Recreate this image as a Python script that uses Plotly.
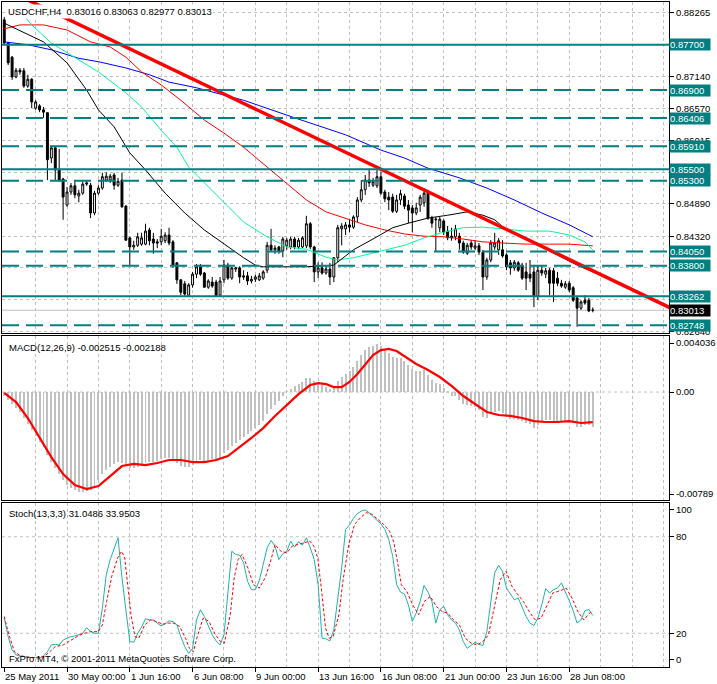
import plotly.graph_objects as go

# ---------------- data ----------------
bars = list(range(151))
opens = [.8814,.8773,.8748,.8713,.8725,.8724,.8697,.8709,.8658,.8662,
         .8655,.8650,.8570,.8588,.8549,.8533,.8487,.8510,.8521,.8503,
         .8508,.8524,.8522,.8473,.8508,.8517,.8531,.8531,.8540,.8522,
         .8531,.8485,.8429,.8413,.8416,.8418,.8418,.8443,.8427,.8422,
         .8422,.8424,.8434,.8422,.8385,.8355,.8348,.8328,.8346,.8365,
         .8378,.8367,.8342,.8351,.8351,.8328,.8355,.8381,.8358,.8374,
         .8376,.8362,.8362,.8353,.8356,.8355,.8358,.8372,.8416,.8408,
         .8413,.8406,.8415,.8413,.8427,.8413,.8413,.8415,.8454,.8413,
         .8369,.8376,.8367,.8374,.8360,.8394,.8445,.8445,.8452,.8448,
         .8466,.8496,.8514,.8531,.8522,.8521,.8537,.8510,.8501,.8501,
         .8476,.8496,.8503,.8487,.8482,.8473,.8487,.8491,.8508,.8464,
         .8461,.8447,.8459,.8441,.8432,.8431,.8432,.8420,.8402,.8420,
         .8411,.8415,.8404,.8360,.8390,.8413,.8408,.8408,.8399,.8385,
         .8376,.8385,.8381,.8369,.8365,.8369,.8326,.8372,.8365,.8372,
         .8371,.8358,.8349,.8342,.8349,.8341,.8323,.8305,.8319,.8319,
         .83016]
highs = [.8819,.8775,.8750,.8729,.8729,.8729,.8717,.8711,.8672,.8665,
         .8660,.8651,.8589,.8589,.8586,.8535,.8519,.8526,.8531,.8514,
         .8529,.8531,.8526,.8512,.8522,.8544,.8545,.8542,.8544,.8535,
         .8544,.8487,.8431,.8424,.8438,.8438,.8454,.8447,.8438,.8427,
         .8445,.8439,.8447,.8425,.8386,.8356,.8353,.8349,.8369,.8383,
         .8383,.8369,.8356,.8360,.8355,.8360,.8390,.8385,.8378,.8378,
         .8379,.8372,.8369,.8362,.8364,.8367,.8372,.8422,.8445,.8416,
         .8415,.8431,.8429,.8431,.8431,.8429,.8432,.8468,.8457,.8415,
         .8386,.8386,.8381,.8385,.8395,.8452,.8455,.8457,.8461,.8469,
         .8501,.8531,.8540,.8551,.8535,.8549,.8545,.8514,.8510,.8507,
         .8505,.8514,.8507,.8496,.8487,.8491,.8505,.8517,.8514,.8468,
         .8466,.8466,.8462,.8450,.8447,.8452,.8438,.8424,.8420,.8425,
         .8425,.8420,.8408,.8394,.8425,.8438,.8429,.8425,.8402,.8390,
         .8390,.8388,.8385,.8385,.8390,.8381,.8379,.8379,.8376,.8376,
         .8376,.8369,.8355,.8353,.8353,.8344,.8326,.8319,.8328,.8323,
         .83063]
lows = [.8770,.8734,.8708,.8711,.8717,.8694,.8694,.8658,.8655,.8651,
        .8641,.8531,.8561,.8531,.8528,.8461,.8484,.8505,.8499,.8492,
        .8505,.8521,.8464,.8469,.8505,.8514,.8528,.8526,.8514,.8519,
        .8482,.8424,.8379,.8408,.8413,.8415,.8416,.8416,.8401,.8411,
        .8416,.8420,.8416,.8376,.8348,.8328,.8326,.8326,.8341,.8358,
        .8362,.8341,.8339,.8341,.8325,.8325,.8349,.8355,.8355,.8369,
        .8349,.8355,.8346,.8349,.8351,.8353,.8355,.8367,.8404,.8401,
        .8401,.8395,.8408,.8409,.8409,.8409,.8411,.8411,.8409,.8351,
        .8358,.8364,.8364,.8346,.8351,.8386,.8416,.8434,.8439,.8445,
        .8457,.8492,.8505,.8519,.8519,.8517,.8505,.8492,.8478,.8473,
        .8473,.8487,.8480,.8455,.8439,.8469,.8475,.8484,.8461,.8447,
        .8404,.8439,.8434,.8425,.8424,.8425,.8408,.8401,.8399,.8408,
        .8408,.8399,.8337,.8355,.8386,.8408,.8399,.8394,.8372,.8364,
        .8371,.8369,.8355,.8337,.8351,.8307,.8319,.8362,.8358,.8328,
        .8316,.8344,.8341,.8339,.8333,.8316,.8272,.8302,.8311,.8298,
        .82977]
closes = [.8773,.8738,.8713,.8725,.8722,.8697,.8709,.8669,.8669,.8655,
          .8651,.8567,.8588,.8549,.8531,.8501,.8510,.8521,.8505,.8508,
          .8524,.8526,.8473,.8508,.8517,.8537,.8538,.8538,.8522,.8529,
          .8484,.8425,.8413,.8416,.8431,.8429,.8441,.8424,.8420,.8420,
          .8432,.8434,.8420,.8381,.8355,.8333,.8330,.8346,.8365,.8378,
          .8365,.8342,.8353,.8344,.8326,.8353,.8381,.8358,.8376,.8376,
          .8360,.8360,.8353,.8356,.8360,.8362,.8369,.8416,.8408,.8411,
          .8406,.8427,.8425,.8427,.8413,.8425,.8429,.8454,.8413,.8369,
          .8376,.8367,.8374,.8360,.8394,.8447,.8450,.8452,.8448,.8466,
          .8496,.8514,.8531,.8526,.8528,.8537,.8508,.8498,.8496,.8476,
          .8496,.8507,.8485,.8478,.8473,.8482,.8501,.8508,.8464,.8455,
          .8462,.8462,.8439,.8429,.8429,.8445,.8420,.8404,.8416,.8413,
          .8415,.8404,.8360,.8390,.8420,.8420,.8424,.8397,.8378,.8376,
          .8386,.8372,.8358,.8358,.8358,.8326,.8372,.8367,.8371,.8349,
          .8349,.8349,.8344,.8348,.8337,.8319,.8305,.8316,.8314,.8300,
          .83013]

# moving averages (sampled along the curves)
ma_black_bars = [0,5,10,16,21,24,28,32,36,41,46,51,57,61,64,66,70,77,84,89,95,99,103,108,113,118,122,125,128,132,137,142,146,150]
ma_black_vals = [.8808,.8791,.8775,.8738,.8690,.8655,.8625,.8579,.8549,.8508,.8473,.8443,.8413,.8394,.8381,.8378,.8378,.8378,.8381,.8408,
                 .8431,.8447,.8455,.8464,.8469,.8475,.8469,.8461,.8443,.8429,.8413,.8395,.8381,.8369]
ma_green_bars = [5,7,12,19,24,31,35,40,44,47,51,56,61,67,72,77,82,85,89,95,102,107,112,117,122,127,133,139,144,148,150]
ma_green_vals = [.8821,.8805,.8773,.8743,.8722,.8685,.8660,.8619,.8589,.8554,.8526,.8491,.8457,.8431,.8413,.8409,.8395,.8390,.8394,.8404,
                 .8416,.8429,.8439,.8447,.8448,.8445,.8441,.8441,.8434,.8422,.8408]
ma_red_bars = [0,4,10,16,22,27,31,35,40,45,51,56,61,67,72,77,82,87,92,97,102,107,112,117,122,127,133,139,144,150]
ma_red_vals = [.8798,.8805,.8805,.8796,.8775,.8766,.8748,.8722,.8699,.8672,.8637,.8614,.8589,.8554,.8526,.8496,.8475,.8464,.8452,.8443,
               .8436,.8432,.8431,.8427,.8422,.8420,.8418,.8418,.8418,.8415]
ma_blue_bars = [0,6,12,19,24,31,37,42,49,56,61,74,87,96,102,108,116,123,130,137,144,150]
ma_blue_vals = [.8775,.8770,.8761,.8746,.8740,.8729,.8717,.8704,.8694,.8681,.8672,.8641,.8611,.8584,.8570,.8552,.8535,.8517,.8496,.8473,.8452,.8431]

trend_bars = [6, 175]
trend_prices = [0.8849, 0.8288]

levels_solid = [0.87700, 0.85500, 0.83262]
levels_dashed = [0.86900, 0.86406, 0.85910, 0.85300, 0.84050, 0.83800, 0.82748]
last_price = 0.83013

price_ticks = [0.88265, 0.87703, 0.87140, 0.86570, 0.86015, 0.85453, 0.84890, 0.84320, 0.83765, 0.83203, 0.82640]
price_tick_text = ['0.88265', '', '0.87140', '0.86570', '0.86015', '', '0.84890', '0.84320', '', '', '0.82640']

macd_hist = [-0.00029,-0.00058,-0.00087,-0.00116,-0.00145,-0.00189,-0.00233,-0.00276,-0.00320,-0.00364,
             -0.00400,-0.00458,-0.00509,-0.00553,-0.00596,-0.00640,-0.00676,-0.00698,-0.00712,-0.00727,
             -0.00727,-0.00720,-0.00712,-0.00683,-0.00640,-0.00596,-0.00567,-0.00545,-0.00523,-0.00509,
             -0.00516,-0.00538,-0.00553,-0.00553,-0.00545,-0.00538,-0.00516,-0.00509,-0.00509,-0.00502,
             -0.00487,-0.00480,-0.00480,-0.00494,-0.00516,-0.00538,-0.00545,-0.00545,-0.00531,-0.00509,
             -0.00494,-0.00502,-0.00494,-0.00487,-0.00494,-0.00480,-0.00443,-0.00422,-0.00393,-0.00371,
             -0.00349,-0.00327,-0.00305,-0.00284,-0.00262,-0.00240,-0.00211,-0.00160,-0.00124,-0.00095,
             -0.00065,-0.00029,0.00005,0.00022,0.00044,0.00058,0.00073,0.00102,0.00102,0.00080,
             0.00065,0.00051,0.00036,0.00022,0.00036,0.00080,0.00109,0.00131,0.00153,0.00182,
             0.00225,0.00269,0.00305,0.00327,0.00334,0.00349,0.00334,0.00305,0.00284,0.00254,
             0.00247,0.00247,0.00225,0.00196,0.00167,0.00153,0.00153,0.00160,0.00124,0.00087,
             0.00065,0.00058,0.00029,-0.00007,-0.00029,-0.00029,-0.00058,-0.00087,-0.00095,-0.00102,
             -0.00109,-0.00131,-0.00182,-0.00189,-0.00160,-0.00145,-0.00138,-0.00153,-0.00174,-0.00196,
             -0.00196,-0.00204,-0.00211,-0.00225,-0.00233,-0.00262,-0.00240,-0.00218,-0.00204,-0.00204,
             -0.00218,-0.00218,-0.00218,-0.00211,-0.00211,-0.00225,-0.00254,-0.00254,-0.00240,-0.00240,
             -0.002515]
macd_sig_bars = [0,3,6,9,12,15,18,21,24,27,30,33,36,39,42,45,48,51,54,57,60,63,66,69,72,75,78,
                 80,82,84,86,88,90,92,94,96,98,100,102,
                 105,108,111,114,117,120,123,126,129,132,135,138,141,144,147,150]
macd_sig_vals = [-0.00007,-0.00073,-0.00189,-0.00327,-0.00473,-0.00596,-0.00676,-0.00705,-0.00683,-0.00611,
                 -0.00538,-0.00523,-0.00531,-0.00516,-0.00494,-0.00494,-0.00509,-0.00509,-0.00494,-0.00465,
                 -0.00400,-0.00334,-0.00262,-0.00174,-0.00095,-0.00015,0.00051,
                 0.00065,0.00058,0.00036,0.00036,0.00073,0.00131,0.00204,0.00269,0.00305,0.00313,0.00298,0.00262,
                 0.00204,0.00160,0.00109,0.00044,-0.00029,-0.00087,-0.00145,-0.00167,-0.00174,-0.00189,
                 -0.00211,-0.00218,-0.00218,-0.00211,-0.00225,-0.002188]

stoch_main = [29.4,17.9,9.6,6.5,5.8,5.4,5.0,4.8,4.8,4.4,
              6.0,8.5,12.7,13.1,12.7,15.8,16.9,17.9,18.3,19.0,
              20.0,23.5,21.0,20.0,20.0,35.6,56.5,65.8,72.1,79.4,
              54.4,35.6,14.8,14.4,20.0,23.8,29.0,28.3,28.3,26.3,
              24.6,25.8,27.7,27.3,25.2,17.9,11.7,7.5,10.6,28.3,
              34.6,30.4,24.2,19.0,15.2,12.7,19.0,42.9,71.0,69.0,
              68.5,63.8,52.3,47.1,47.1,52.7,62.7,73.1,77.7,74.2,
              65.8,69.4,71.0,77.3,73.5,76.9,74.8,79.4,73.1,65.8,
              50.2,16.9,16.5,15.2,22.1,39.8,60.6,84.6,87.3,91.5,
              94.4,96.0,96.7,95.0,92.3,90.2,88.1,84.6,78.3,67.9,
              50.2,45.6,44.4,37.7,27.3,32.5,39.8,49.8,45.6,39.8,
              26.3,34.6,36.7,31.5,28.3,26.3,22.1,14.8,10.6,12.7,
              14.4,13.1,12.3,21.0,39.8,57.5,62.3,58.5,48.1,44.0,
              40.8,41.9,36.7,30.4,26.3,24.8,29.4,37.7,47.7,45.0,
              47.1,48.1,51.3,46.0,40.2,34.0,26.3,28.3,34.0,34.8,
              31.0486]
stoch_sig_bars = [0,1.2,2.6,4.1,7.1,10.1,11.6,13,15,17,19,20.5,22,24,25,26.1,27.4,28.9,29.9,30.7,31.4,32.3,33.3,34.3,
                  35.8,37.3,38.8,40.3,41.8,43.2,44.7,46.2,47.2,48.2,49.2,50.7,52.2,53.6,55.1,56.1,57.6,58.6,59.6,60.6,
                  62.1,63.5,65,66.5,68,69,70.5,72,73.4,74.9,76.4,77.9,78.9,79.9,80.9,81.9,82.8,83.8,85.3,86.3,87.8,
                  89.3,90.8,92.3,93.7,95.2,96.7,98.2,99.2,100.2,101.2,102.6,104.1,105.6,107.1,108.6,110.1,111.6,113,
                  114.5,116,117.5,119,120.5,122,123.4,124.9,126.4,127.9,129.4,130.9,132.3,133.8,135.3,136.8,138.3,
                  139.8,141.8,143.2,144.7,146.2,147.7,149.2,150]
stoch_sig_vals = [30.4,19.0,8.5,6.0,4.8,5.4,8.5,11.7,12.7,15.8,18.6,20.0,21.0,21.0,25.2,39.8,55.4,66.9,71.0,66.9,52.3,31.5,17.9,16.9,
                  25.2,28.3,27.3,25.6,26.3,26.3,24.2,16.9,10.6,8.5,17.9,29.4,27.3,20.0,14.8,13.8,31.5,54.4,65.8,69.0,
                  60.6,50.2,48.1,54.4,65.8,75.2,71.0,70.0,74.2,75.2,76.3,77.3,74.2,66.9,46.0,23.1,16.9,17.9,31.5,52.3,75.2,
                  87.7,91.9,95.0,94.0,90.8,87.7,83.5,77.3,64.8,50.2,46.0,37.7,31.5,39.8,42.9,36.7,33.5,32.5,
                  28.3,25.2,16.9,13.8,12.7,14.8,19.0,35.6,53.3,58.5,49.2,44.0,39.8,33.5,28.3,29.4,36.7,
                  45.0,46.5,48.1,41.9,33.5,28.3,32.5,33.9503]

time_label_bars = [0, 16, 32, 48, 64, 80, 96, 112, 128, 144]
time_labels = ['25 May 2011', '30 May 00:00', '1 Jun 16:00', '6 Jun 08:00', '9 Jun 00:00',
               '13 Jun 16:00', '16 Jun 08:00', '21 Jun 00:00', '23 Jun 16:00', '28 Jun 08:00']
grid_bars = list(range(8, 170, 8))

# ---------------- figure ----------------
FONT = 'Liberation Sans'
GRID = '#C0C0C0'
TEAL = '#008080'
XR = [-0.575, 169.425]

fig = go.Figure()

fig.add_trace(go.Candlestick(
    x=bars, open=opens, high=highs, low=lows, close=closes,
    increasing=dict(line=dict(color='black', width=1), fillcolor='white'),
    decreasing=dict(line=dict(color='black', width=1), fillcolor='black'),
    whiskerwidth=0, hoverinfo='skip', showlegend=False, xaxis='x', yaxis='y'))

for bx, vy, col in [(ma_blue_bars, ma_blue_vals, '#0000FF'),
                    (ma_red_bars, ma_red_vals, '#FF0000'),
                    (ma_green_bars, ma_green_vals, '#00FA9A'),
                    (ma_black_bars, ma_black_vals, '#000000')]:
    fig.add_trace(go.Scatter(x=bx, y=vy, mode='lines', line=dict(color=col, width=1),
                             hoverinfo='skip', showlegend=False, xaxis='x', yaxis='y'))

fig.add_trace(go.Scatter(x=trend_bars, y=trend_prices, mode='lines',
                         line=dict(color='#FF0000', width=3.5),
                         hoverinfo='skip', showlegend=False, xaxis='x', yaxis='y'))

# MACD
fig.add_trace(go.Bar(x=bars, y=macd_hist, width=0.25,
                     marker=dict(color='#C0C0C0', line=dict(width=0)),
                     hoverinfo='skip', showlegend=False, xaxis='x2', yaxis='y2'))
fig.add_trace(go.Scatter(x=macd_sig_bars, y=macd_sig_vals, mode='lines',
                         line=dict(color='#FF0000', width=2.2),
                         hoverinfo='skip', showlegend=False, xaxis='x2', yaxis='y2'))

# Stochastic
fig.add_trace(go.Scatter(x=bars, y=stoch_main, mode='lines',
                         line=dict(color='#20B2AA', width=1),
                         hoverinfo='skip', showlegend=False, xaxis='x3', yaxis='y3'))
fig.add_trace(go.Scatter(x=stoch_sig_bars, y=stoch_sig_vals, mode='lines',
                         line=dict(color='#FF0000', width=1, dash='3px,2px'),
                         hoverinfo='skip', showlegend=False, xaxis='x3', yaxis='y3'))

# dummy trace for the time tick-mark axis
fig.add_trace(go.Scatter(x=[0], y=[50], mode='markers', marker=dict(opacity=0),
                         hoverinfo='skip', showlegend=False, xaxis='x4', yaxis='y3'))

xcommon = dict(range=XR, tickmode='array', tickvals=grid_bars, showticklabels=False, ticks='',
               showgrid=True, gridcolor=GRID, griddash='3px,3px', gridwidth=1,
               showline=True, linecolor='black', linewidth=1, mirror=True, zeroline=False,
               fixedrange=True)

D_MAIN = [0.5023, 1.0]
D_MACD = [0.2511, 0.4977]
D_STO = [0.0, 0.2466]

ycommon = dict(side='right', ticks='outside', ticklen=4, tickcolor='black', tickwidth=1,
               showline=True, linecolor='black', linewidth=1, mirror=True, zeroline=False,
               fixedrange=True, tickfont=dict(family=FONT, size=9.5, color='black'))

fig.update_layout(
    width=717, height=684,
    margin=dict(l=1, r=36, t=2, b=17),
    paper_bgcolor='white', plot_bgcolor='white',
    showlegend=False,
    font=dict(family=FONT, size=9.5, color='black'),
    bargap=0,
    xaxis=dict(xcommon, anchor='y', rangeslider=dict(visible=False)),
    xaxis2=dict(xcommon, anchor='y2', matches='x'),
    xaxis3=dict(xcommon, anchor='y3', matches='x'),
    xaxis4=dict(range=XR, overlaying='x3', anchor='y3', side='bottom', tickmode='array',
                tickvals=time_label_bars, showticklabels=False, ticks='outside', ticklen=4,
                tickcolor='black', showgrid=False, showline=False, zeroline=False, fixedrange=True),
    yaxis=dict(ycommon, domain=D_MAIN, anchor='x', range=[0.82612, 0.88454],
               tickmode='array', tickvals=price_ticks, ticktext=price_tick_text,
               showgrid=True, gridcolor=GRID, griddash='3px,3px', gridwidth=1),
    yaxis2=dict(ycommon, domain=D_MACD, anchor='x2', range=[-0.00785, 0.00407],
                tickmode='array', tickvals=[0.00356, 0.0, -0.00742],
                ticktext=['0.004036', '0.00', '-0.00789'], showgrid=False),
    yaxis3=dict(ycommon, domain=D_STO, anchor='x3', range=[-1, 101],
                tickmode='array', tickvals=[96.8, 80, 20, 3.5],
                ticktext=['100', '80', '20', '0'], showgrid=False),
)

shapes = []
# indicator grid lines
for yref, val in [('y2', 0.0), ('y3', 80), ('y3', 20)]:
    shapes.append(dict(type='line', xref='paper', x0=0, x1=1, yref=yref, y0=val, y1=val,
                       line=dict(color=GRID, width=1, dash='3px,3px'), layer='below'))
# bid line
shapes.append(dict(type='line', xref='paper', x0=0, x1=1, yref='y', y0=last_price, y1=last_price,
                   line=dict(color='#C0C0C0', width=1), layer='between'))
# horizontal levels
for lv in levels_solid:
    shapes.append(dict(type='line', xref='paper', x0=0, x1=1, yref='y', y0=lv, y1=lv,
                       line=dict(color=TEAL, width=2), layer='above'))
for lv in levels_dashed:
    shapes.append(dict(type='line', xref='paper', x0=0, x1=1, yref='y', y0=lv, y1=lv,
                       line=dict(color=TEAL, width=2, dash='17px,7px'), layer='above'))
fig.update_layout(shapes=shapes)

ann = []
for lv in levels_solid + levels_dashed:
    ann.append(dict(xref='paper', x=1, xanchor='left', yref='y', y=lv, yanchor='middle',
                    text='%.5f' % lv, showarrow=False, bgcolor=TEAL, borderpad=0,
                    width=40, align='left', height=11,
                    font=dict(family=FONT, size=9.5, color='white')))
ann.append(dict(xref='paper', x=1, xanchor='left', yref='y', y=last_price, yanchor='middle',
                text='%.5f' % last_price, showarrow=False, bgcolor='black', borderpad=0,
                width=40, align='left', height=11,
                font=dict(family=FONT, size=9.5, color='white')))

ann.append(dict(xref='paper', x=0, xanchor='left', xshift=4, yref='paper', y=1, yanchor='top', yshift=-2,
                text='USDCHF,H4&nbsp;&nbsp;0.83016 0.83063 0.82977 0.83013', showarrow=False,
                bgcolor='white', borderpad=1, font=dict(family=FONT, size=9.5, color='black')))
ann.append(dict(xref='paper', x=0, xanchor='left', xshift=5, yref='paper', y=D_MACD[1], yanchor='top', yshift=-4,
                text='MACD(12,26,9) -0.002515 -0.002188', showarrow=False,
                font=dict(family=FONT, size=9.5, color='black')))
ann.append(dict(xref='paper', x=0, xanchor='left', xshift=5, yref='paper', y=D_STO[1], yanchor='top', yshift=-3,
                text='Stoch(13,3,3) 31.0486 33.9503', showarrow=False,
                font=dict(family=FONT, size=9.5, color='black')))
ann.append(dict(xref='paper', x=0, xanchor='left', xshift=5, yref='paper', y=0, yanchor='bottom', yshift=1,
                text='FxPro MT4, © 2001-2011 MetaQuotes Software Corp.', showarrow=False,
                font=dict(family=FONT, size=9.5, color='black')))
for b, t in zip(time_label_bars, time_labels):
    ann.append(dict(xref='x3', x=b, xanchor='left', xshift=-1, yref='paper', y=0, yanchor='top', yshift=-2,
                    text=t, showarrow=False, font=dict(family=FONT, size=9.5, color='black')))
fig.update_layout(annotations=ann)

fig.write_html('out.html', config={'displayModeBar': False},
               post_script="document.body.style.margin='0';document.body.style.overflow='hidden';")
